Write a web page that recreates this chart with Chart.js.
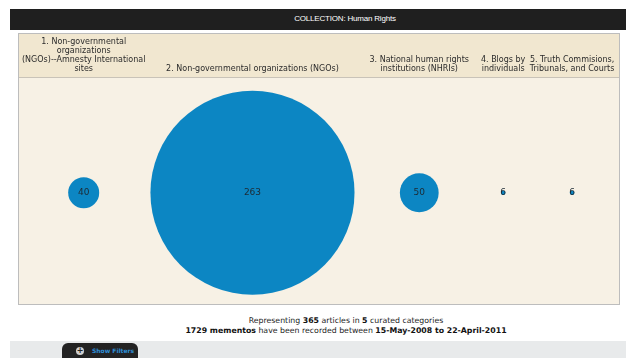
<!DOCTYPE html>
<html>
<head>
<meta charset="utf-8">
<script src="https://cdn.jsdelivr.net/npm/chart.js@4/dist/chart.umd.min.js"></script>
<style>
  html, body { margin: 0; padding: 0; background: #fff; }
  body { width: 626px; height: 358px; position: relative; overflow: hidden; font-family: "DejaVu Sans", Verdana, sans-serif; }
  #topbar { position: absolute; left: 10px; top: 9px; width: 616px; height: 21px; background: #1f1f1f; }
  #topbar span { position: absolute; left: 335px; top: 5px; transform: translateX(-50%); color: #fff; font: 8px "Liberation Sans", Arial, sans-serif; letter-spacing: -0.2px; white-space: nowrap; }
  #box { position: absolute; left: 18px; top: 33px; width: 600px; height: 270px; border: 1px solid #bdbdbd; }
  #summary { position: absolute; left: 346px; top: 316px; transform: translateX(-50%); text-align: center; font-size: 7.8px; line-height: 10px; color: #222; white-space: nowrap; }
  #summary b { color: #111; }
  #footer { position: absolute; left: 10px; top: 341px; width: 616px; height: 17px; background: #e8eaeb; }
  #tab { position: absolute; left: 62px; top: 343px; width: 76px; height: 16px; background: #232323; border-radius: 6px 6px 0 0; }
  #tab i { position: absolute; left: 14px; top: 4px; width: 8px; height: 8px; border-radius: 50%; background: #cfcfcf; color: #222; font: bold 8px/8px "DejaVu Sans", sans-serif; font-style: normal; text-align: center; }
  #tab span { position: absolute; left: 30px; top: 4px; color: #2f8fd6; font: bold 6px "DejaVu Sans", sans-serif; white-space: nowrap; }
</style>
</head>
<body>
<div id="topbar"><span>COLLECTION: Human Rights</span></div>
<div id="box"><canvas id="bubbles" width="600" height="270"></canvas></div>
<div id="summary">
  Representing <b>365</b> articles in <b>5</b> curated categories<br>
  <b>1729 mementos</b> have been recorded between <b>15-May-2008 to 22-April-2011</b>
</div>
<div id="footer"></div>
<div id="tab"><i>+</i><span>Show Filters</span></div>

<script>
// categories (header labels, already wrapped)
const categories = [
  ["1. Non-governmental", "organizations", "(NGOs)--Amnesty International", "sites"],
  ["2. Non-governmental organizations (NGOs)"],
  ["3. National human rights", "institutions (NHRIs)"],
  ["4. Blogs by", "individuals"],
  ["5. Truth Commisions,", "Tribunals, and Courts"]
];
const articleCounts = [40, 263, 50, 6, 6];

// layout: column widths in px, bubble px per article
const colWidths = [128, 210, 124, 44, 94];
const RADIUS_PER_ARTICLE = 0.388;

const colCenters = [];
let acc = 0;
colWidths.forEach((w) => {
  colCenters.push(acc + w / 2);
  acc += w;
});
const totalWidth = acc;

const HEADER_BG = "#f1e7d0";
const BODY_BG = "#f7f1e5";
const BUBBLE = "#0c86c3";

const backgroundPlugin = {
  id: "panelBg",
  beforeDraw(chart) {
    const { ctx, chartArea, width } = chart;
    ctx.save();
    ctx.fillStyle = HEADER_BG;
    ctx.fillRect(0, 0, width, chartArea.top);
    ctx.fillStyle = BODY_BG;
    ctx.fillRect(0, chartArea.top, width, chart.height - chartArea.top);
    ctx.strokeStyle = "#c9c3b8";
    ctx.lineWidth = 1;
    ctx.beginPath();
    ctx.moveTo(0, chartArea.top + 0.5);
    ctx.lineTo(width, chartArea.top + 0.5);
    ctx.stroke();
    ctx.restore();
  }
};

const valueLabels = {
  id: "valueLabels",
  afterDatasetsDraw(chart) {
    const { ctx } = chart;
    const meta = chart.getDatasetMeta(0);
    ctx.save();
    ctx.font = '9px "DejaVu Sans", sans-serif';
    ctx.fillStyle = "#1d2a33";
    ctx.textAlign = "center";
    ctx.textBaseline = "middle";
    meta.data.forEach((el, i) => {
      ctx.fillText(String(articleCounts[i]), el.x, el.y);
    });
    ctx.restore();
  }
};

new Chart(document.getElementById("bubbles"), {
  type: "bubble",
  data: {
    datasets: [
      {
        data: articleCounts.map((v, i) => ({ x: colCenters[i], y: 1, r: v * RADIUS_PER_ARTICLE })),
        backgroundColor: BUBBLE,
        borderColor: BUBBLE,
        borderWidth: 0,
        hoverRadius: 0,
        clip: false
      }
    ]
  },
  options: {
    responsive: false,
    animation: false,
    events: [],
    layout: { padding: 0, autoPadding: false },
    plugins: {
      legend: { display: false },
      tooltip: { enabled: false }
    },
    scales: {
      x: {
        type: "linear",
        position: "top",
        min: 0,
        max: totalWidth,
        grid: { display: false, drawTicks: false },
        border: { display: false },
        afterBuildTicks: (scale) => {
          scale.ticks = colCenters.map((c) => ({ value: c }));
        },
        afterFit: (scale) => {
          scale.height = 43;
        },
        ticks: {
          maxRotation: 0,
          autoSkip: false,
          padding: 3,
          color: "#2b2b2b",
          font: { family: "DejaVu Sans", size: 8, lineHeight: 1.15 },
          callback: (val, idx) => categories[idx]
        }
      },
      y: {
        display: false,
        min: 0,
        max: 2.04
      }
    }
  },
  plugins: [backgroundPlugin, valueLabels]
});
</script>
</body>
</html>
